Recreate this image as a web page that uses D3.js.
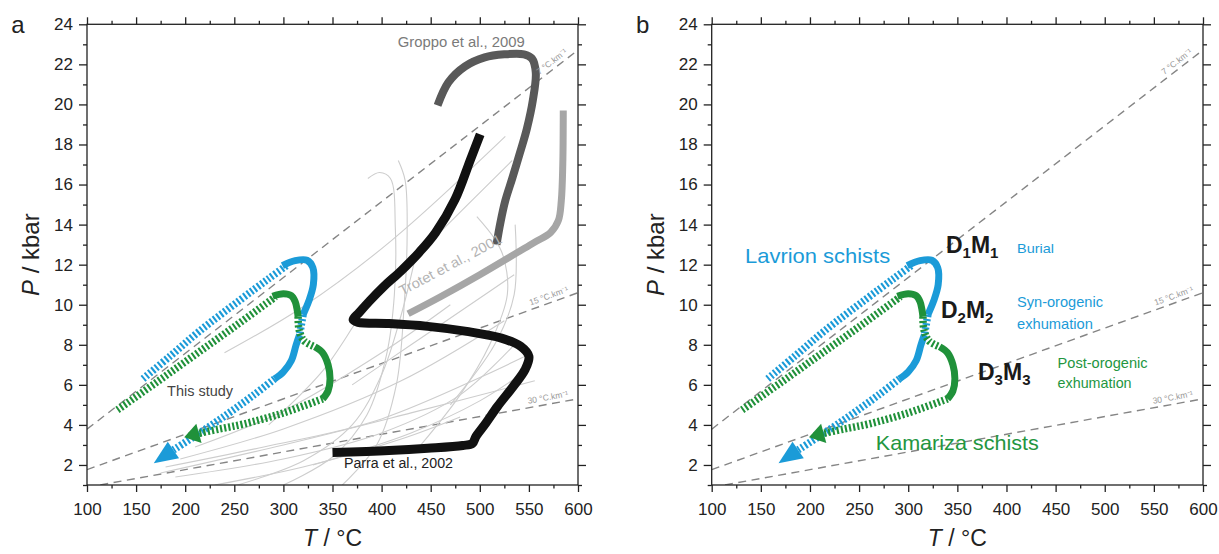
<!DOCTYPE html>
<html><head><meta charset="utf-8">
<script src="https://cdn.jsdelivr.net/npm/d3@7"></script>
<style>
body{margin:0;background:#fff}
svg{display:block}
text{font-family:"Liberation Sans",Arial,Helvetica,sans-serif}
</style>
</head><body>
<svg id="chart" width="1219" height="554"></svg>
<script>
// ---------------- DATA ----------------
const tempTicks = [100,150,200,250,300,350,400,450,500,550,600];
const tempMinorTicks = [125,175,225,275,325,375,425,475,525,575];
const pressureTicks = [2,4,6,8,10,12,14,16,18,20,22,24];
const pressureMinorTicks = [1,3,5,7,9,11,13,15,17,19,21,23];
const panelLetters = ["a","b"];
const geothermGradients = [7,15,30];          // °C/km
const geothermLabels = ["7 °C.km⁻¹","15 °C.km⁻¹","30 °C.km⁻¹"];
const geothermLabelT = [563,553,550];
const kbarPerKm = 0.265;

// Lavrion schists (blue) P-T path  [T °C, P kbar]
const lavrionPrograde = [[157,6.3],[185,7.45],[215,8.7],[256,10.24],[285,11.3],[303,11.95]];
const lavrionPeak = [[299,11.95],[312,12.2],[324,12.22],[330,11.85],[330.5,11.0],[326,10.2],[320,9.5]];
const lavrionD2 = [[320,9.5],[316.5,8.5]];
const lavrionDecomp = [[316.5,8.5],[313,8.0],[308,7.2],[300,6.65],[291,6.3]];
const lavrionRetro = [[291,6.3],[270,5.5],[249,4.75],[230,4.1],[210,3.45],[188,2.75]];
const lavrionArrowTip = [168,2.08];

// Kamariza schists (green) P-T path
const kamarizaPrograde = [[131,4.75],[170,6.1],[210,7.5],[250,8.9],[292,10.4]];
const kamarizaPeak = [[289,10.42],[300,10.55],[308,10.45],[312,10.15],[314,9.75],[315,9.4]];
const kamarizaD2 = [[315,9.4],[316,8.75],[321,8.2],[332,7.9]];
const kamarizaD3 = [[332,7.9],[340,7.6],[345.5,7.0],[347.5,6.3],[345.5,5.7],[340,5.3]];
const kamarizaRetro = [[340,5.3],[300,4.6],[260,4.05],[235,3.8],[214,3.58]];
const kamarizaArrowTip = [199,3.38];

// Literature paths (panel a)
const parraPath = [[500.4,18.5],[490.5,17.25],[474.7,15.25],[455,13.6],[438,12.6],[420,11.7],[402,10.9],[388,10.2],[377,9.6],[371,9.25],[376,9.12],[407.5,9.06],[447,8.92],[486.6,8.67],[522,8.33],[541.7,7.92],[550,7.42],[546,6.75],[534,5.92],[518,4.92],[506,4.08],[496,3.42],[492.5,3.08],[482.6,2.97],[447,2.83],[407.5,2.72],[350,2.62]];
const groppoPath = [[457,19.95],[468,21.1],[485,21.9],[505,22.35],[525,22.5],[545,22.5],[553,22.3],[557,21.6],[554,20.2],[548,18.8],[541,17.6],[533,16.3],[526,15.2],[521,14.1],[517,13.0]];
const trotetPath = [[585,19.7],[584.5,17],[583,15.2],[580,14.2],[572,13.6],[555,13.1],[500,11.5],[460,10.4],[427,9.55]];
const thinPaths = [
  [[175,1.6],[300,3.0],[430,4.6],[556,6.2]],
  [[180,1.9],[280,2.9],[400,4.3],[545,7.4]],
  [[195,2.3],[300,3.8],[420,6.2],[525,9.2]],
  [[210,2.9],[300,4.7],[400,7.6],[470,10.0]],
  [[190,1.4],[300,2.3],[400,3.6],[480,5.5],[535,8.0]],
  [[250,0.95],[320,2.2],[370,4.0],[400,6.5],[420,9.5],[435,12.5]],
  [[300,1.0],[350,2.4],[385,4.5],[405,7.5],[413,10.5],[414,13.8],[409,16.3],[398,16.6],[386,16.3]],
  [[360,1.0],[395,3.0],[415,6.0],[423,10],[426,13.5],[424,16.2],[417,17.2]],
  [[240,7.6],[320,9.9],[410,13.2],[526,18.4]],
  [[285,4.0],[340,6.7],[390,10.2],[455,13.4],[533,17.2]],
  [[440,3.0],[480,5.5],[510,8.0],[528,10.5],[524,12.4],[515,13.3],[497,14.4]],
  [[470,5.0],[515,8.0],[535,10.5],[536,14.0]],
  [[370,6.0],[430,8.0],[490,10.0],[535,11.5]],
  [[330,2.0],[430,3.6],[500,5.2],[550,6.8]],
  [[230,1.0],[320,1.9],[420,3.3],[480,4.4]]
];

// ---------------- DRAW ----------------
const svg = d3.select("#chart");
svg.append("rect").attr("width",1219).attr("height",554).attr("fill","#fff");

const BLUE = "#1b9bd8", GREEN = "#20913a";
const panels = [{left:87, right:578}, {left:711.7, right:1203}];
const plotTop = 24.3, plotBottom = 485;

panels.forEach((pn, idx) => {
  const x = d3.scaleLinear().domain([100,600]).range([pn.left, pn.right]);
  const y = d3.scaleLinear().domain([1,24]).range([plotBottom, plotTop]);
  const g = svg.append("g");
  const clipId = "clip"+idx;
  svg.append("clipPath").attr("id",clipId).append("rect")
    .attr("x",pn.left).attr("y",plotTop).attr("width",pn.right-pn.left).attr("height",plotBottom-plotTop);
  const line = d3.line().x(d=>x(d[0])).y(d=>y(d[1])).curve(d3.curveCatmullRom.alpha(0.5));
  const plot = g.append("g").attr("clip-path","url(#"+clipId+")");

  // geotherms
  geothermGradients.forEach((G,i) => {
    const pts = [100,600].map(T => [T, T*kbarPerKm/G]);
    plot.append("path").attr("d", d3.line().x(d=>x(d[0])).y(d=>y(d[1]))(pts))
      .attr("fill","none").attr("stroke","#858585").attr("stroke-width",1.4)
      .attr("stroke-dasharray","8,5.5");
    const T0 = geothermLabelT[i];
    const ang = Math.atan2(y(600*kbarPerKm/G)-y(100*kbarPerKm/G), x(600)-x(100))*180/Math.PI;
    g.append("text").attr("transform",`translate(${x(T0)},${y(T0*kbarPerKm/G)}) rotate(${ang}) translate(0,-4)`)
      .attr("font-size",8.5).attr("fill","#999").text(geothermLabels[i]);
  });

  if (idx === 0) {
    thinPaths.forEach(p => plot.append("path").attr("d", line(p)).attr("fill","none")
      .attr("stroke","#cdcdcd").attr("stroke-width",1.1));
    const tx = x(421), ty = y(10.45);
    g.append("text").attr("transform",`translate(${tx},${ty}) rotate(-28)`)
      .attr("font-size",14).attr("fill","#b3b3b3").attr("textLength",114).attr("lengthAdjust","spacingAndGlyphs")
      .text("Trotet et al., 2001");
    plot.append("path").attr("d", line(trotetPath)).attr("fill","none").attr("stroke","#a6a6a6").attr("stroke-width",7);
    plot.append("path").attr("d", line(groppoPath)).attr("fill","none").attr("stroke","#595959").attr("stroke-width",8);
    plot.append("path").attr("d", line(parraPath))
      .attr("fill","none").attr("stroke","#111").attr("stroke-width",9).attr("stroke-linejoin","round");
    g.append("text").attr("x",x(416.5)).attr("y",y(22.87)).attr("font-size",14).attr("fill","#7a7a7a")
      .attr("textLength",127).attr("lengthAdjust","spacingAndGlyphs").text("Groppo et al., 2009");
    g.append("text").attr("x",x(181.5)).attr("y",y(5.45)).attr("font-size",14).attr("fill","#444")
      .attr("textLength",66).attr("lengthAdjust","spacingAndGlyphs").text("This study");
    g.append("text").attr("x",x(361.7)).attr("y",y(1.85)).attr("font-size",14).attr("fill","#222")
      .attr("textLength",109).attr("lengthAdjust","spacingAndGlyphs").text("Parra et al., 2002");
  }

  // P-T paths
  const hatched = (data, col) => plot.append("path").attr("d", line(data)).attr("fill","none")
      .attr("stroke",col).attr("stroke-width",7.5).attr("stroke-dasharray","2.1,2.1");
  const solid = (data, col) => plot.append("path").attr("d", line(data)).attr("fill","none")
      .attr("stroke",col).attr("stroke-width",7).attr("stroke-linecap","butt").attr("stroke-linejoin","round");
  const arrow = (from, tip, col) => {
    const x0=x(from[0]), y0=y(from[1]), x1=x(tip[0]), y1=y(tip[1]);
    const dx=x1-x0, dy=y1-y0, L=Math.hypot(dx,dy), ux=dx/L, uy=dy/L;
    const hw=10;
    const pts=[[x1,y1],[x0-uy*hw,y0+ux*hw],[x0+uy*hw,y0-ux*hw]];
    plot.append("path").attr("d","M"+pts.map(p=>p.join(",")).join("L")+"Z").attr("fill",col);
  };
  hatched(lavrionPrograde, BLUE);
  solid(lavrionPeak, BLUE);
  hatched(lavrionD2, BLUE);
  solid(lavrionDecomp, BLUE);
  hatched(lavrionRetro, BLUE);
  arrow(lavrionRetro[lavrionRetro.length-1], lavrionArrowTip, BLUE);
  hatched(kamarizaPrograde, GREEN);
  solid(kamarizaPeak, GREEN);
  hatched(kamarizaD2, GREEN);
  solid(kamarizaD3, GREEN);
  hatched(kamarizaRetro, GREEN);
  arrow(kamarizaRetro[kamarizaRetro.length-1], kamarizaArrowTip, GREEN);

  if (idx === 1) {
    const txt = (T,P,s,size,col,len,bold) => {
      const t = g.append("text").attr("x",x(T)).attr("y",y(P)).attr("font-size",size).attr("fill",col).text(s);
      if (len) t.attr("textLength",len).attr("lengthAdjust","spacingAndGlyphs");
      if (bold) t.attr("font-weight","bold");
      return t;
    };
    txt(134,12.1,"Lavrion schists",21,BLUE,145);
    txt(267,2.75,"Kamariza schists",21,"#23963f",163);
    txt(410.7,12.6,"Burial",13,BLUE,37);
    txt(410.7,9.9,"Syn-orogenic",15,BLUE,86);
    txt(410.7,8.8,"exhumation",15,BLUE,76);
    txt(452,6.85,"Post-orogenic",15,"#23963f",90);
    txt(452,5.85,"exhumation",15,"#23963f",74);
    const dm = (T,P,n) => {
      const t = g.append("text").attr("x",x(T)).attr("y",y(P)).attr("font-size",23).attr("font-weight","bold").attr("fill","#1a1a1a");
      t.append("tspan").text("D");
      t.append("tspan").attr("font-size",15).attr("dy",5).text(n);
      t.append("tspan").attr("dy",-5).text("M");
      t.append("tspan").attr("font-size",15).attr("dy",5).text(n);
    };
    dm(338.4,12.6,"1");
    dm(333.3,9.35,"2");
    dm(371,6.25,"3");
  }

  // axes
  svg.append("rect").attr("x",pn.left).attr("y",plotTop).attr("width",pn.right-pn.left).attr("height",plotBottom-plotTop)
    .attr("fill","none").attr("stroke","#222").attr("stroke-width",1.3);
  const styleAxis = s => { s.select(".domain").remove(); s.selectAll("line").attr("stroke","#222").attr("stroke-width",1.3); s.selectAll("text").attr("font-size",17).attr("fill","#222").attr("font-family","'Liberation Sans',Arial,sans-serif"); };
  svg.append("g").attr("transform",`translate(0,${plotBottom})`)
    .call(d3.axisBottom(x).tickValues(tempTicks).tickSize(7).tickPadding(11).tickFormat(d3.format("d"))).call(styleAxis);
  svg.append("g").attr("transform",`translate(0,${plotBottom})`)
    .call(d3.axisBottom(x).tickValues(tempMinorTicks).tickSize(3.5).tickFormat("")).call(styleAxis);
  svg.append("g").attr("transform",`translate(0,${plotTop})`)
    .call(d3.axisTop(x).tickValues(tempTicks).tickSize(7).tickFormat("")).call(styleAxis);
  svg.append("g").attr("transform",`translate(0,${plotTop})`)
    .call(d3.axisTop(x).tickValues(tempMinorTicks).tickSize(3.5).tickFormat("")).call(styleAxis);
  svg.append("g").attr("transform",`translate(${pn.left},0)`)
    .call(d3.axisLeft(y).tickValues(pressureTicks).tickSize(8).tickPadding(6).tickFormat(d3.format("d"))).call(styleAxis);
  svg.append("g").attr("transform",`translate(${pn.left},0)`)
    .call(d3.axisLeft(y).tickValues(pressureMinorTicks).tickSize(4).tickFormat("")).call(styleAxis);
  svg.append("g").attr("transform",`translate(${pn.right},0)`)
    .call(d3.axisRight(y).tickValues(pressureTicks).tickSize(8).tickFormat("")).call(styleAxis);
  svg.append("g").attr("transform",`translate(${pn.right},0)`)
    .call(d3.axisRight(y).tickValues(pressureMinorTicks).tickSize(4).tickFormat("")).call(styleAxis);

  const xt = svg.append("text").attr("x",(pn.left+pn.right)/2).attr("y",546).attr("text-anchor","middle")
    .attr("font-size",23).attr("fill","#222");
  xt.append("tspan").attr("font-style","italic").text("T");
  xt.append("tspan").text(" / °C");
  const yt = svg.append("text").attr("transform",`translate(${pn.left-48},${(plotTop+plotBottom)/2}) rotate(-90)`)
    .attr("text-anchor","middle").attr("font-size",24).attr("fill","#222");
  yt.append("tspan").attr("font-style","italic").text("P");
  yt.append("tspan").text(" / kbar");
  svg.append("text").attr("x",pn.left-69).attr("y",33).attr("text-anchor","middle")
    .attr("font-size",24).attr("fill","#222").text(panelLetters[idx]);
});
</script>
</body></html>
